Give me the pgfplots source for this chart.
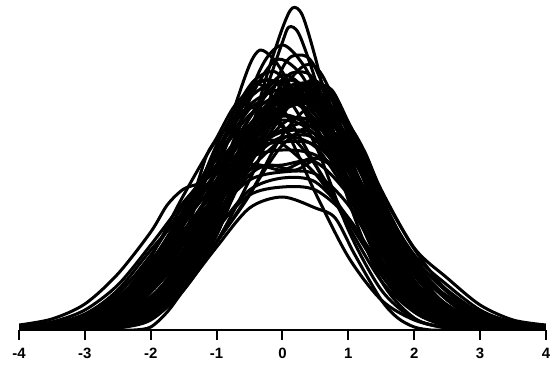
\documentclass[border=0pt]{standalone}
\usepackage{pgfplots}
\pgfplotsset{compat=1.18}
\usepackage{fontspec}
\setmainfont{Liberation Sans}

\pgfplotsset{curve/.style={black, line width=3bp, smooth, no marks, line join=round}}

\begin{document}
\begin{tikzpicture}
\begin{axis}[
  scale only axis, width=527bp, height=330bp,
  xmin=-4, xmax=4, ymin=0, ymax=330,
  axis x line=bottom, axis y line=none,
  x axis line style={-, line width=2.2bp},
  xtick={-4,-3,-2,-1,0,1,2,3,4},
  xticklabels={-4,-3,-2,-1,0,1,2,3,4},
  tick align=outside, major tick length=10bp,
  every tick/.style={black, line width=2bp},
  xticklabel style={font=\bfseries\fontsize{15}{15}\selectfont, yshift=-5bp},
]
% broad, near-normal curves
\addplot[curve] coordinates {(-4,0)(-3.5,0.5)(-3,3)(-2.5,10)(-2,31)(-1.5,74)(-1,132)(-0.5,200)(0,230)(0.5,210)(1,148)(1.5,76)(2,30)(2.5,10)(3,3)(3.5,0.5)(4,0)};
\addplot[curve] coordinates {(-4,0)(-3.5,0.2)(-3,1)(-2.5,5)(-2,19)(-1.5,50)(-1,106)(-0.5,168)(0,222)(0.25,232)(0.5,228)(1,182)(1.5,112)(2,50)(2.5,18)(3,5)(3.5,1)(4,0.2)};
\addplot[curve] coordinates {(-4,0.2)(-3.5,1)(-3,5)(-2.5,19)(-2,55)(-1.5,112)(-1,172)(-0.5,221)(-0.25,228)(0,221)(0.5,165)(1,104)(1.5,49)(2,18)(2.5,5)(3,1)(3.5,0.2)(4,0)};
\addplot[curve] coordinates {(-4,0)(-3.5,0)(-3,0.5)(-2.5,3)(-2,12)(-1.5,42)(-1,88)(-0.5,135)(0,195)(0.5,226)(1,205)(1.5,133)(2,70)(2.5,30)(3,10)(3.5,2.5)(4,0.5)};
\addplot[curve] coordinates {(-4,0)(-3.5,0.3)(-3,1)(-2.5,5)(-2,22)(-1.5,64)(-1,140)(-0.5,212)(0,255)(0.5,225)(1,137)(1.5,63)(2,22)(2.5,5)(3,1)(3.5,0.3)(4,0)};
\addplot[curve] coordinates {(-4,0)(-3.5,0)(-3,0.5)(-2.5,3)(-2,13)(-1.5,45)(-1,95)(-0.5,182)(0,248)(0.25,258)(0.5,248)(1,175)(1.5,105)(2,39)(2.5,11)(3,2)(3.5,0.5)(4,0)};
\addplot[curve] coordinates {(-4,0)(-3.5,0.5)(-3,2)(-2.5,11)(-2,38)(-1.5,95)(-1,177)(-0.5,240)(-0.25,250)(0,240)(0.5,185)(1,100)(1.5,40)(2,11)(2.5,2)(3,0.5)(3.5,0)(4,0)};
\addplot[curve] coordinates {(-4,0.2)(-3.5,1.3)(-3,5)(-2.5,16)(-2,40)(-1.5,80)(-1,139)(-0.5,189)(0,210)(0.5,195)(1,139)(1.5,88)(2,40)(2.5,16)(3,5)(3.5,1.3)(4,0.2)};
\addplot[curve] coordinates {(-4,0.2)(-3.5,0.6)(-3,3)(-2.5,9)(-2,26)(-1.5,60)(-1,111)(-0.5,168)(0,206)(0.25,212)(0.5,206)(1,168)(1.5,111)(2,60)(2.5,32)(3,13)(3.5,3)(4,0.6)};
\addplot[curve] coordinates {(-4,0.6)(-3.5,2.7)(-3,9)(-2.5,26)(-2,66)(-1.5,118)(-1,165)(-0.5,203)(-0.25,208)(0,203)(0.5,165)(1,109)(1.5,59)(2,26)(2.5,9)(3,2.7)(3.5,0.6)(4,0.2)};
\addplot[curve] coordinates {(-4,0.8)(-3.5,2.7)(-3,8.5)(-2.5,22)(-2,48)(-1.5,88)(-1,136)(-0.5,170)(0,193)(0.5,183)(1,136)(1.5,88)(2,48)(2.5,22)(3,8.5)(3.5,2.7)(4,0.8)};
\addplot[curve] coordinates {(-4,0.4)(-3.5,1.5)(-3,5)(-2.5,14)(-2,33)(-1.5,67)(-1,113)(-0.5,160)(0,191)(0.25,195)(0.5,191)(1,160)(1.5,113)(2,67)(2.5,33)(3,14)(3.5,5)(4,1.5)};
\addplot[curve] coordinates {(-4,0)(-3.5,0)(-3,0.5)(-2.5,3)(-2,15)(-1.5,55)(-1,130)(-0.5,234)(-0.25,271)(0,285)(0.25,271)(0.5,240)(1,130)(1.5,49)(2,12)(2.5,2)(3,0.3)(3.5,0)(4,0)};
\addplot[curve] coordinates {(-4,0)(-3.5,0)(-3,0.5)(-2.5,2)(-2,12)(-1.5,45)(-1,95)(-0.5,177)(0,262)(0.25,275)(0.5,262)(1,177)(1.5,81)(2,25)(2.5,5)(3,1)(3.5,0)(4,0)};
\addplot[curve] coordinates {(-4,0.5)(-3.5,2.5)(-3,10)(-2.5,30)(-2,73)(-1.5,135)(-1,190)(-0.5,222)(0,205)(0.5,137)(1,73)(1.5,30)(2,10)(2.5,2.5)(3,0.5)(3.5,0)(4,0)};
\addplot[curve] coordinates {(-4,0)(-3.5,0)(-3,0.3)(-2.5,2)(-2,10)(-1.5,40)(-1,88)(-0.5,150)(0,220)(0.5,245)(1,205)(1.5,128)(2,60)(2.5,21)(3,5)(3.5,1)(4,0.3)};
\addplot[curve] coordinates {(-4,1.4)(-3.5,4.8)(-3,13.7)(-2.5,32.7)(-2,65.5)(-1.5,110)(-1,156)(-0.5,186)(-0.25,190)(0,186)(0.5,156)(1,110)(1.5,65.5)(2,32.7)(2.5,13.7)(3,4.8)(3.5,1.4)(4,0.4)};
\addplot[curve] coordinates {(-4,0)(-3.5,0.3)(-3,1.3)(-2.5,5)(-2,16)(-1.5,42)(-1,88)(-0.5,136)(0,185)(0.5,205)(1,185)(1.5,136)(2,81)(2.5,39)(3,15.5)(3.5,5)(4,1.3)};
\addplot[curve] coordinates {(-4,0.5)(-3.5,2)(-3,7)(-2.5,20)(-2,45)(-1.5,90)(-1,150)(-0.5,205)(0,232)(0.5,222)(1,170)(1.5,98)(2,42)(2.5,14)(3,4)(3.5,1)(4,0)};
\addplot[curve] coordinates {(-4,0)(-3.5,0.5)(-3,2)(-2.5,9)(-2,28)(-1.5,68)(-1,128)(-0.5,185)(0,218)(0.5,238)(1,190)(1.5,110)(2,48)(2.5,16)(3,4)(3.5,1)(4,0)};
\addplot[curve] coordinates {(-4,1)(-3.5,3)(-3,10)(-2.5,28)(-2,60)(-1.5,105)(-1,158)(-0.5,198)(0,214)(0.5,200)(1,152)(1.5,92)(2,42)(2.5,15)(3,4)(3.5,1)(4,0)};
\addplot[curve] coordinates {(-4,0)(-3.5,0.5)(-3,2)(-2.5,8)(-2,24)(-1.5,58)(-1,112)(-0.5,178)(0,238)(0.5,242)(1,172)(1.5,85)(2,30)(2.5,8)(3,2)(3.5,0.5)(4,0)};
\addplot[curve] coordinates {(-4,0.5)(-3.5,2)(-3,7)(-2.5,22)(-2,52)(-1.5,96)(-1,145)(-0.5,182)(0,200)(0.5,208)(1,178)(1.5,118)(2,58)(2.5,22)(3,7)(3.5,2)(4,0.5)};
\addplot[curve] coordinates {(-4,0)(-3.5,0.3)(-3,1.5)(-2.5,6)(-2,20)(-1.5,52)(-1,108)(-0.5,170)(0,200)(0.5,190)(1,142)(1.5,80)(2,33)(2.5,10)(3,2)(3.5,0.5)(4,0)};
% wide on the left
\addplot[curve] coordinates {(-4,1)(-3.5,3)(-3,10)(-2.5,28)(-2,62)(-1.5,115)(-1,180)(-0.5,232)(0,248)(0.5,215)(1,150)(1.5,80)(2,30)(2.5,9)(3,2)(3.5,0.5)(4,0)};
\addplot[curve] coordinates {(-4,2)(-3.5,5)(-3,14)(-2.5,36)(-2,75)(-1.5,125)(-1,172)(-0.5,215)(0,236)(0.5,225)(1,165)(1.5,92)(2,38)(2.5,12)(3,3)(3.5,1)(4,0)};
\addplot[curve] coordinates {(-4,0.5)(-3.5,2)(-3,7)(-2.5,22)(-2,55)(-1.5,106)(-1,185)(-0.5,244)(-0.2,258)(0,252)(0.5,205)(1,135)(1.5,68)(2,25)(2.5,7)(3,2)(3.5,0)(4,0)};
\addplot[curve] coordinates {(-4,3)(-3.5,8)(-3,20)(-2.5,45)(-2,85)(-1.5,128)(-1,165)(-0.5,205)(0,228)(0.5,215)(1,160)(1.5,95)(2,42)(2.5,14)(3,4)(3.5,1)(4,0)};
\addplot[curve] coordinates {(-4,1)(-3.5,4)(-3,12)(-2.5,32)(-2,68)(-1.5,120)(-1,178)(-0.5,225)(0,240)(0.5,220)(1,165)(1.5,90)(2,35)(2.5,10)(3,3)(3.5,1)(4,0)};
\addplot[curve] coordinates {(-4,1.5)(-3.5,5)(-3,15)(-2.5,40)(-2,80)(-1.5,118)(-1,158)(-0.5,212)(0,250)(0.5,232)(1,162)(1.5,85)(2,32)(2.5,10)(3,2)(3.5,0.5)(4,0)};
% wide on the right
\addplot[curve] coordinates {(-4,0)(-3.5,0.5)(-3,2)(-2.5,7)(-2,22)(-1.5,58)(-1,118)(-0.5,185)(0,232)(0.5,240)(1,198)(1.5,125)(2,65)(2.5,30)(3,12)(3.5,4)(4,1)};
\addplot[curve] coordinates {(-4,0)(-3.5,0.5)(-3,2)(-2.5,8)(-2,25)(-1.5,62)(-1,122)(-0.5,182)(0,225)(0.5,232)(1,192)(1.5,130)(2,72)(2.5,38)(3,16)(3.5,6)(4,2)};
\addplot[curve] coordinates {(-4,0)(-3.5,0)(-3,1)(-2.5,5)(-2,17)(-1.5,48)(-1,102)(-0.5,172)(0,228)(0.5,248)(1,205)(1.5,122)(2,58)(2.5,24)(3,8)(3.5,2)(4,0.5)};
\addplot[curve] coordinates {(-4,0)(-3.5,1)(-3,3)(-2.5,11)(-2,30)(-1.5,70)(-1,130)(-0.5,190)(0,220)(0.5,225)(1,185)(1.5,120)(2,62)(2.5,34)(3,18)(3.5,8)(4,3)};
\addplot[curve] coordinates {(-4,0)(-3.5,0.3)(-3,1.5)(-2.5,6)(-2,20)(-1.5,52)(-1,110)(-0.5,178)(0,235)(0.5,246)(0.75,235)(1,200)(1.5,118)(2,55)(2.5,22)(3,7)(3.5,2)(4,0.5)};
\addplot[curve] coordinates {(-4,0)(-3.5,0.5)(-3,2)(-2.5,9)(-2,27)(-1.5,66)(-1,125)(-0.5,185)(0,222)(0.5,228)(1,190)(1.5,128)(2,75)(2.5,45)(3,20)(3.5,7)(4,2)};
% tall peaks and outer curves
\addplot[curve] coordinates {(-4,0)(-3.5,0)(-3,1)(-2.5,4)(-2,14)(-1.5,42)(-1,100)(-0.5,195)(-0.25,252)(0,302)(0.15,322)(0.3,315)(0.5,272)(0.75,205)(1,145)(1.5,62)(2,20)(2.5,5)(3,1)(3.5,0)(4,0)};
\addplot[curve] coordinates {(-4,0)(-3.5,0)(-3,1)(-2.5,5)(-2,16)(-1.5,46)(-1,102)(-0.5,190)(-0.25,240)(0,288)(0.1,303)(0.25,296)(0.5,250)(0.75,192)(1,138)(1.5,64)(2,22)(2.5,6)(3,1)(3.5,0)(4,0)};
\addplot[curve] coordinates {(-4,0)(-3.5,1)(-3,3)(-2.5,10)(-2,30)(-1.5,75)(-1,165)(-0.75,218)(-0.5,265)(-0.34,280)(-0.15,272)(0,258)(0.25,228)(0.5,200)(1,148)(1.5,85)(2,35)(2.5,10)(3,3)(3.5,1)(4,0)};
\addplot[curve] coordinates {(-4,1)(-3.5,3)(-3,9)(-2.5,26)(-2,58)(-1.5,108)(-1.3,145)(-1.15,175)(-1,192)(-0.75,222)(-0.5,240)(-0.25,250)(0,245)(0.5,222)(1,168)(1.5,100)(2,45)(2.5,15)(3,4)(3.5,1)(4,0)};
\addplot[curve] coordinates {(-4,5)(-3.5,11)(-3,26)(-2.5,56)(-2,98)(-1.75,125)(-1.5,141)(-1.25,147)(-1,160)(-0.5,200)(0,230)(0.5,220)(1,170)(1.5,100)(2,45)(2.5,15)(3,4)(3.5,1)(4,0)};
\addplot[curve] coordinates {(-4,0)(-3.5,1)(-3,3)(-2.5,10)(-2,30)(-1.5,75)(-1,140)(-0.5,195)(0,225)(0.5,235)(1,205)(1.25,178)(1.5,140)(2,82)(2.5,52)(3,25)(3.5,10)(4,5)};
\addplot[curve] coordinates {(-4,0)(-3.5,0)(-3,1)(-2.5,4)(-2,15)(-1.5,45)(-1,100)(-0.5,165)(0,215)(0.25,235)(0.5,245)(0.75,240)(1,208)(1.25,175)(1.5,130)(2,62)(2.5,22)(3,6)(3.5,1)(4,0)};
% low, flat curves
\addplot[curve] coordinates {(-4,0)(-3,0)(-2.5,0)(-2.25,0)(-2,3)(-1.75,18)(-1.5,40)(-1,83)(-0.5,122)(0,133)(0.5,122)(0.8,112)(1.1,75)(1.5,30)(1.75,12)(2,3)(2.25,0)(2.5,0)(3,0)(4,0)};
\addplot[curve] coordinates {(-4,0)(-3.5,0.5)(-3,2)(-2.5,8)(-2,26)(-1.5,60)(-1,102)(-0.5,135)(0,143)(0.5,140)(1,112)(1.5,62)(2,22)(2.5,6)(3,1)(3.5,0)(4,0)};
\addplot[curve] coordinates {(-4,0)(-3.5,0)(-3,1)(-2.5,6)(-2,22)(-1.5,55)(-1,100)(-0.5,140)(0,152)(0.5,148)(1,112)(1.5,55)(2,18)(2.5,4)(3,1)(3.5,0)(4,0)};
\addplot[curve] coordinates {(-4,0.5)(-3.5,1.5)(-3,5)(-2.5,15)(-2,38)(-1.5,75)(-1,118)(-0.5,150)(0,158)(0.5,156)(1,125)(1.5,70)(2,28)(2.5,8)(3,2)(3.5,0.5)(4,0)};
\addplot[curve] coordinates {(-4,1)(-3.5,2)(-3,6)(-2.5,18)(-2,42)(-1.5,80)(-1,125)(-0.5,160)(0,165)(0.5,168)(1,135)(1.5,78)(2,32)(2.5,10)(3,3)(3.5,1)(4,0)};
\addplot[curve] coordinates {(-4,0)(-3.5,1)(-3,3)(-2.5,12)(-2,33)(-1.5,70)(-1,115)(-0.5,155)(-0.2,165)(0.2,160)(0.6,172)(1,145)(1.5,85)(2,35)(2.5,11)(3,3)(3.5,1)(4,0)};
\addplot[curve] coordinates {(-4,2)(-3.5,5)(-3,14)(-2.5,32)(-2,62)(-1.5,100)(-1,140)(-0.5,172)(0,180)(0.5,175)(1,148)(1.5,100)(2,55)(2.5,25)(3,10)(3.5,3)(4,1)};
\addplot[curve] coordinates {(-4,1)(-3.5,3)(-3,9)(-2.5,25)(-2,55)(-1.5,98)(-1,145)(-0.5,180)(0,188)(0.5,185)(1,150)(1.5,95)(2,45)(2.5,16)(3,5)(3.5,1)(4,0)};
\addplot[curve] coordinates {(-4,0.5)(-3.5,2)(-3,6)(-2.5,18)(-2,44)(-1.5,85)(-1,135)(-0.5,178)(0,198)(0.5,196)(1,158)(1.5,100)(2,48)(2.5,18)(3,6)(3.5,1.5)(4,0.3)};
% bumpy curves
\addplot[curve] coordinates {(-4,0)(-3.5,1)(-3,3)(-2.5,10)(-2,30)(-1.5,78)(-1,160)(-0.5,240)(-0.35,246)(0,228)(0.45,250)(0.75,230)(1,180)(1.5,90)(2,32)(2.5,9)(3,2)(3.5,0)(4,0)};
\addplot[curve] coordinates {(-4,0)(-3.5,0)(-3,1)(-2.5,5)(-2,18)(-1.5,50)(-1,105)(-0.5,180)(0,240)(0.35,265)(0.6,255)(1,195)(1.5,100)(2,35)(2.5,9)(3,2)(3.5,0)(4,0)};
\addplot[curve] coordinates {(-4,1)(-3.5,3)(-3,9)(-2.5,24)(-2,50)(-1.5,92)(-1,150)(-0.6,190)(-0.2,205)(0.2,230)(0.6,215)(1,160)(1.4,120)(1.8,85)(2.2,45)(2.5,25)(3,8)(3.5,2)(4,0)};
\addplot[curve] coordinates {(-4,2)(-3.5,6)(-3,16)(-2.5,38)(-2,70)(-1.5,108)(-1,150)(-0.5,205)(0,240)(0.3,245)(0.6,225)(1,160)(1.5,78)(2,28)(2.5,8)(3,2)(3.5,0.5)(4,0)};
\addplot[curve] coordinates {(-4,0)(-3.5,0.5)(-3,2)(-2.5,8)(-2,25)(-1.5,65)(-1,130)(-0.5,190)(0,215)(0.5,200)(1,160)(1.5,115)(2,70)(2.5,40)(3,17)(3.5,5)(4,1)};
\addplot[curve] coordinates {(-4,1)(-3.5,3)(-3,10)(-2.5,26)(-2,55)(-1.5,95)(-1,135)(-0.5,165)(0,160)(0.5,172)(1,150)(1.5,95)(2,45)(2.5,16)(3,5)(3.5,1)(4,0)};
\addplot[curve] coordinates {(-4,0)(-3.5,1)(-3,4)(-2.5,15)(-2,45)(-1.5,95)(-1.25,115)(-1,125)(-0.5,170)(0,220)(0.5,225)(1,165)(1.5,85)(2,30)(2.5,8)(3,2)(3.5,0)(4,0)};
\addplot[curve] coordinates {(-4,0)(-3.5,0.5)(-3,2)(-2.5,8)(-2,26)(-1.5,70)(-1,145)(-0.5,230)(-0.1,270)(0.25,258)(0.5,228)(1,150)(1.5,70)(2,22)(2.5,5)(3,1)(3.5,0)(4,0)};
\end{axis}
\pgfresetboundingbox
\path[use as bounding box] (-19bp,-35bp) rectangle (535bp,330bp);
\end{tikzpicture}
\end{document}
